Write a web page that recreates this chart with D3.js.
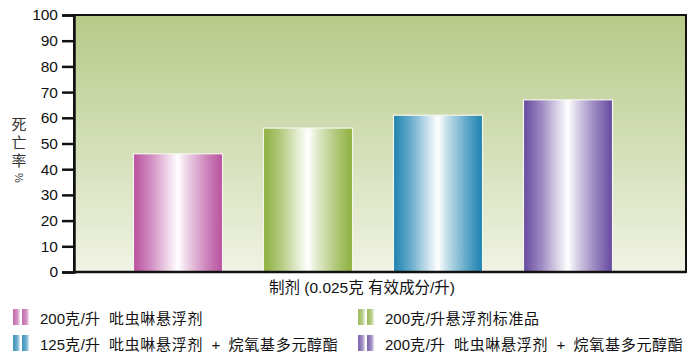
<!DOCTYPE html>
<html><head><meta charset="utf-8">
<script src="https://cdn.jsdelivr.net/npm/d3@7"></script>
<style>body{margin:0;background:#fff;} svg{display:block;}</style>
</head><body><svg id="c" width="700" height="364"></svg>
<script>
const categories = ["200克/升  吡虫啉悬浮剂", "200克/升悬浮剂标准品", "125克/升  吡虫啉悬浮剂  +  烷氧基多元醇酯", "200克/升  吡虫啉悬浮剂  +  烷氧基多元醇酯"];
const mortality = [46, 56, 61, 67];
const yTicks = [0,10,20,30,40,50,60,70,80,90,100];
const xTitle = "制剂 (0.025克 有效成分/升)";
const yTitle = ["死", "亡", "率"];
const yUnit = "%";
const barColors = ["#b9519f", "#8caf3c", "#1b82b0", "#6649a0"];

const svg = d3.select("#c");
const font = "Liberation Sans, Arial, 'Noto Sans CJK SC', sans-serif";
const L = 74, R = 686, T = 15, B = 272;

const defs = svg.append("defs");
const bg = defs.append("linearGradient").attr("id","bg").attr("x1",0).attr("y1",0).attr("x2",0).attr("y2",1);
bg.append("stop").attr("offset","0%").attr("stop-color","#b6ca88");
bg.append("stop").attr("offset","100%").attr("stop-color","#f0f3e4");

barColors.forEach((c,i)=>{
  const g = defs.append("linearGradient").attr("id","bar"+i).attr("x1",0).attr("x2",1).attr("y1",0).attr("y2",0);
  const light = d3.interpolateRgb(c, "#ffffff");
  [[0,c],[0.2,light(0.35)],[0.4,light(0.8)],[0.5,"#ffffff"],[0.6,light(0.75)],[0.82,light(0.3)],[1,c]].forEach(([o,col])=>{
    g.append("stop").attr("offset",o).attr("stop-color",col);
  });
  const s = defs.append("linearGradient").attr("id","sw"+i).attr("x1",0).attr("x2",1).attr("y1",0).attr("y2",0);
  s.append("stop").attr("offset",0).attr("stop-color",light(0.15));
  s.append("stop").attr("offset",0.6).attr("stop-color",light(0.35));
  s.append("stop").attr("offset",1).attr("stop-color",light(0.85));
});

const y = d3.scaleLinear().domain([0,100]).range([B,T]);
const x = d3.scaleBand().domain(categories).range([L+39, R-53]).paddingInner(0.315).paddingOuter(0.1575);

svg.append("rect").attr("x",L).attr("y",T).attr("width",R-L).attr("height",B-T).attr("fill","url(#bg)");

svg.append("g").selectAll("rect").data(categories).join("rect")
  .attr("x", d=>x(d)).attr("width", x.bandwidth())
  .attr("y", (d,i)=>y(mortality[i])).attr("height",(d,i)=>B-y(mortality[i]))
  .attr("fill",(d,i)=>"url(#bar"+i+")")
  .attr("stroke","#f4f6ea").attr("stroke-width",1.2);

svg.append("rect").attr("x",L).attr("y",T).attr("width",R-L).attr("height",B-T)
  .attr("fill","none").attr("stroke","#111").attr("stroke-width",2);

const yAxis = svg.append("g").attr("transform",`translate(${L},0)`)
  .call(d3.axisLeft(y).tickValues(yTicks).tickSize(12).tickPadding(4));
yAxis.select(".domain").attr("stroke","#111").attr("stroke-width",2.5);
yAxis.selectAll(".tick line").attr("stroke","#111").attr("stroke-width",2.5);
yAxis.selectAll(".tick text").attr("font-family",font).attr("font-size",15.5).attr("fill","#111");
svg.append("line").attr("x1",L).attr("x2",R).attr("y1",B).attr("y2",B).attr("stroke","#111").attr("stroke-width",2.5);

svg.append("text").attr("x",362).attr("y",293).attr("text-anchor","middle")
  .attr("font-family",font).attr("font-size",15.5).attr("fill","#111").text(xTitle);

const yt = svg.append("text").attr("font-family",font).attr("fill","#333").attr("text-anchor","middle").attr("font-size",15);
yTitle.forEach((ch,i)=>{
  yt.append("tspan").attr("x",19).attr("y", 130 + i*18).text(ch);
});
svg.append("text").attr("transform","translate(19,178) rotate(90)").attr("text-anchor","middle")
  .attr("dy","0.35em").attr("font-family",font).attr("font-size",11).attr("fill","#333").text(yUnit);

// legend
const legPos = [[13,324],[358,324],[13,350],[358,350]];
function addRuns(t, s){
  const runs = s.match(/[\x00-\x7F]+|[^\x00-\x7F]+/g);
  runs.forEach(r=>{
    const ascii = /^[\x00-\x7F]+$/.test(r);
    t.append("tspan").attr("font-size", ascii?15:15).attr("letter-spacing", ascii?0:0.7)
      .style("white-space","pre").text(r);
  });
}
categories.forEach((c,i)=>{
  const [lx,ly] = legPos[i];
  const g = svg.append("g").attr("transform",`translate(${lx},${ly})`);
  [0,9].forEach(dx=>{
    g.append("rect").attr("x",dx).attr("y",-15).attr("width",7).attr("height",16)
      .attr("fill","url(#sw"+i+")");
  });
  const t = g.append("text").attr("x",27).attr("y",0).attr("font-family",font)
    .attr("fill","#111").style("white-space","pre");
  addRuns(t, c);
});
</script></body></html>
